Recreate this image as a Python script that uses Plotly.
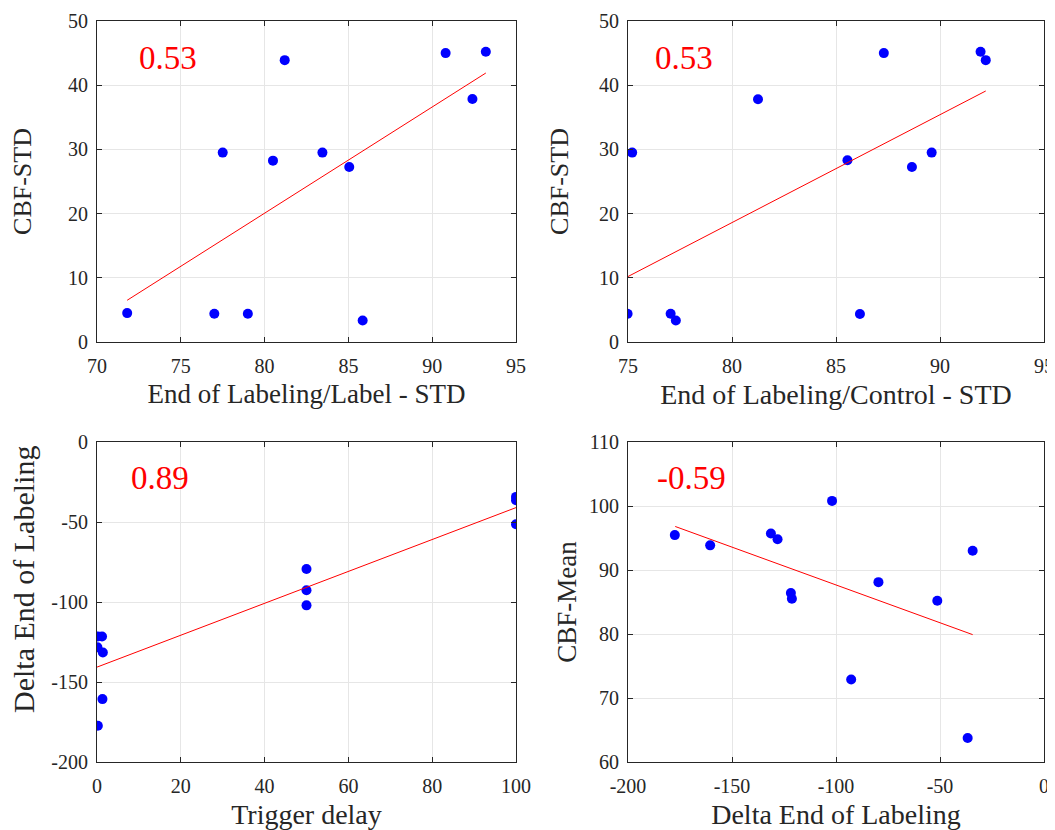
import plotly.graph_objects as go

# shared y values (CBF-STD) in the order of the left panel
label_std = [71.8, 81.2, 90.8, 93.2, 92.4, 77.5, 80.5, 83.45, 85.05, 77.0, 79.0, 85.85]
cbf_std_1 = [4.5, 43.9, 45.0, 45.2, 37.85, 29.5, 28.25, 29.5, 27.25, 4.4, 4.4, 3.35]
fit1_x = [71.8, 93.2]
fit1_y = [6.5, 41.9]

control_std = [74.98, 75.2, 77.05, 77.3, 81.25, 85.55, 86.15, 87.3, 88.65, 89.6, 91.95, 92.2]
cbf_std_2 = [4.4, 29.5, 4.4, 3.35, 37.8, 28.3, 4.35, 45.0, 27.25, 29.5, 45.2, 43.9]
fit2_x = [75.0, 92.2]
fit2_y = [10.2, 39.1]

trigger_delay = [0.2, 1.2, 0.1, 1.4, 1.3, 0.2, 50, 50, 50, 100, 100, 100]
delta_eol = [-121.6, -121.6, -128.3, -131.6, -160.7, -177.3, -79.4, -92.7, -102.1, -34.3, -36.4, -51.4]
fit3_x = [0, 100]
fit3_y = [-140.7, -41.0]

delta_eol_4 = [-177.5, -160.5, -131.3, -128.1, -121.7, -121.2, -101.9, -92.7, -79.6, -51.3, -34.3, -36.7]
cbf_mean = [95.45, 93.85, 95.7, 94.8, 86.4, 85.5, 100.8, 72.9, 88.1, 85.2, 93.0, 63.75]
fit4_x = [-177.3, -34.3]
fit4_y = [96.8, 79.9]

corr_labels = ["0.53", "0.53", "0.89", "-0.59"]

# tick values (labels use a plain hyphen as in the original)
ticks_x1 = [70, 75, 80, 85, 90, 95]
ticks_x2 = [75, 80, 85, 90, 95]
ticks_std = [0, 10, 20, 30, 40, 50]
ticks_x3 = [0, 20, 40, 60, 80, 100]
ticks_y3 = [-200, -150, -100, -50, 0]
ticks_x4 = [-200, -150, -100, -50, 0]
ticks_y4 = [60, 70, 80, 90, 100, 110]

FONT = "Liberation Serif"
INK = "#262626"
W, H = 1047, 822

fig = go.Figure()

panels = [
    (label_std, cbf_std_1, fit1_x, fit1_y, "x", "y"),
    (control_std, cbf_std_2, fit2_x, fit2_y, "x2", "y2"),
    (trigger_delay, delta_eol, fit3_x, fit3_y, "x3", "y3"),
    (delta_eol_4, cbf_mean, fit4_x, fit4_y, "x4", "y4"),
]
for xs, ys, fx, fy, xa, ya in panels:
    fig.add_trace(go.Scatter(x=xs, y=ys, mode="markers", xaxis=xa, yaxis=ya,
                             marker=dict(color="#0000ff", size=10), showlegend=False))
    fig.add_trace(go.Scatter(x=fx, y=fy, mode="lines", xaxis=xa, yaxis=ya,
                             line=dict(color="#ff0000", width=1), showlegend=False))


def ax(domain, ticks, title, anchor, tsize, standoff, lab_off):
    return dict(domain=domain, range=[ticks[0], ticks[-1]], anchor=anchor,
                tickmode="array", tickvals=ticks, ticktext=[str(t) for t in ticks],
                showline=True, linecolor=INK, linewidth=1, mirror="ticks",
                ticks="inside", ticklen=5, tickcolor=INK, ticklabelstandoff=lab_off,
                showgrid=True, gridcolor="#e6e6e6", zeroline=False,
                tickfont=dict(family=FONT, size=20, color=INK),
                title=dict(text=title, font=dict(family=FONT, size=tsize, color=INK), standoff=standoff),
                automargin=False)


def dx(a, b):
    return [(a - 8) / W, (b - 8) / W]


def dy(top, bottom):
    return [1 - (bottom - 8) / H, 1 - (top - 8) / H]


xl, xr = dx(97, 516), dx(628, 1044)
yt, yb = dy(21, 342), dy(442, 762)

fig.update_layout(
    width=W, height=H,
    margin=dict(l=0, r=0, t=0, b=0),
    paper_bgcolor="white", plot_bgcolor="white",
    xaxis=ax(xl, ticks_x1, "End of Labeling/Label - STD", "y", 27, 8, 6),
    yaxis=ax(yt, ticks_std, "CBF-STD", "x", 26, 28, 4),
    xaxis2=ax(xr, ticks_x2, "End of Labeling/Control - STD", "y2", 28, 8, 6),
    yaxis2=ax(yt, ticks_std, "CBF-STD", "x2", 26, 22, 4),
    xaxis3=ax(xl, ticks_x3, "Trigger delay", "y3", 28, 8, 6),
    yaxis3=ax(yb, ticks_y3, "", "x3", 30, 12, 4),
    xaxis4=ax(xr, ticks_x4, "Delta End of Labeling", "y4", 28, 8, 6),
    yaxis4=ax(yb, ticks_y4, "CBF-Mean", "x4", 27, 4, 4),
)

# the lower-left y label sits a little above the panel centre in the original
fig.add_annotation(x=15 / W, y=1 - 572 / H, xref="paper", yref="paper",
                   text="Delta End of Labeling", textangle=-90, showarrow=False,
                   xanchor="center", yanchor="middle",
                   font=dict(family=FONT, size=30, color=INK))

ann_pos = [(72.4, 44.3, "x", "y"), (76.2, 44.3, "x2", "y2"),
           (7.6, -22.7, "x3", "y3"), (-187.2, 104.3, "x4", "y4")]
for txt, (ax_x, ax_y, xr_, yr_) in zip(corr_labels, ann_pos):
    fig.add_annotation(x=ax_x, y=ax_y, xref=xr_, yref=yr_, text=txt, showarrow=False,
                       xanchor="left", yanchor="middle",
                       font=dict(family=FONT, size=33, color="#ff0000"))

fig.write_html("out.html")
